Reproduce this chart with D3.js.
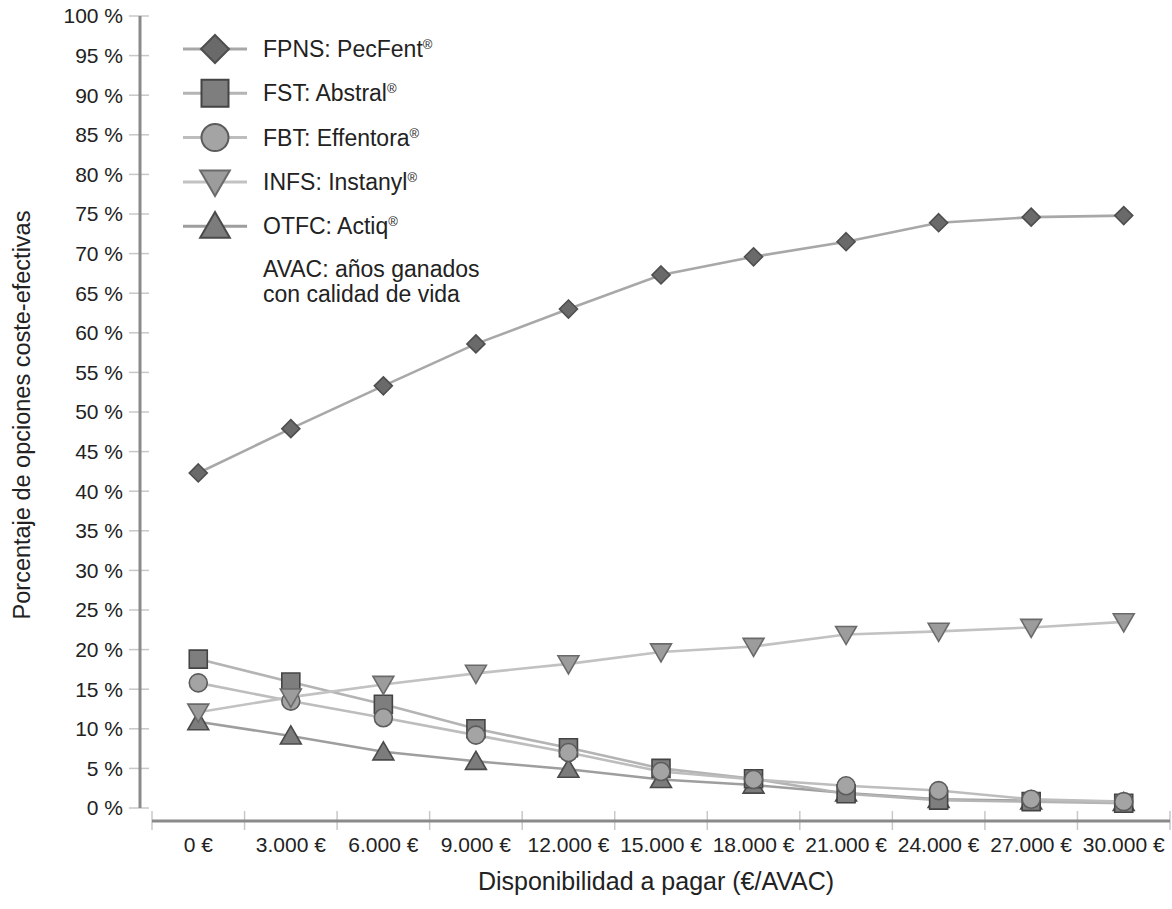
<!DOCTYPE html>
<html>
<head>
<meta charset="utf-8">
<script src="https://cdn.jsdelivr.net/npm/d3@7"></script>
<style>
  body { margin: 0; background: #fff; }
  text { font-family: "Liberation Sans", Arial, sans-serif; fill: #222; }
</style>
</head>
<body>
<div id="chart"></div>
<script>
var categories = [0, 3000, 6000, 9000, 12000, 15000, 18000, 21000, 24000, 27000, 30000];
var xLabels = ["0 €", "3.000 €", "6.000 €", "9.000 €", "12.000 €", "15.000 €", "18.000 €", "21.000 €", "24.000 €", "27.000 €", "30.000 €"];
var yTicks = d3.range(0, 101, 5);

var fpns = [42.3, 47.9, 53.3, 58.6, 63.0, 67.3, 69.6, 71.5, 73.9, 74.6, 74.8];
var fst  = [18.8, 15.9, 13.1, 10.0, 7.6, 5.0, 3.7, 1.8, 1.0, 0.8, 0.6];
var fbt  = [15.8, 13.5, 11.4, 9.2, 7.0, 4.6, 3.6, 2.8, 2.2, 1.1, 0.8];
var infs = [12.1, 14.0, 15.6, 17.0, 18.2, 19.7, 20.4, 21.9, 22.3, 22.8, 23.5];
var otfc = [10.9, 9.1, 7.1, 5.9, 4.9, 3.6, 2.9, 1.9, 1.1, 0.9, 0.7];

var seriesNames = ["FPNS: PecFent", "FST: Abstral", "FBT: Effentora", "INFS: Instanyl", "OTFC: Actiq"];

var width = 1172, height = 909;

// marker shapes centred on 0,0
function markerPath(kind, s) {
    var h = s / 2;
    if (kind === "diamond") return "M0," + (-h) + "L" + h + ",0L0," + h + "L" + (-h) + ",0Z";
    if (kind === "square") return "M" + (-h) + "," + (-h) + "H" + h + "V" + h + "H" + (-h) + "Z";
    if (kind === "circle") return "M" + h + ",0A" + h + "," + h + " 0 1,1 " + (-h) + ",0A" + h + "," + h + " 0 1,1 " + h + ",0Z";
    if (kind === "down") return "M" + (-h * 1.1) + "," + (-h * 0.85) + "H" + (h * 1.1) + "L0," + (h * 1.05) + "Z";
    if (kind === "up") return "M" + (-h * 1.1) + "," + (h * 0.85) + "H" + (h * 1.1) + "L0," + (-h * 1.05) + "Z";
}

// drawing order: bottom first
var series = [
    { name: seriesNames[4], values: otfc, kind: "up",      size: 19, fill: "#7c7c7c", stroke: "#4a4a4a", line: "#9e9e9e" },
    { name: seriesNames[1], values: fst,  kind: "square",  size: 18, fill: "#7e7e7e", stroke: "#444",    line: "#b4b4b4" },
    { name: seriesNames[2], values: fbt,  kind: "circle",  size: 18, fill: "#a4a4a4", stroke: "#5c5c5c", line: "#bdbdbd" },
    { name: seriesNames[3], values: infs, kind: "down",    size: 19, fill: "#9c9c9c", stroke: "#6a6a6a", line: "#c2c2c2" },
    { name: seriesNames[0], values: fpns, kind: "diamond", size: 18, fill: "#6a6a6a", stroke: "#4e4e4e", line: "#a8a8a8" }
];
var legendOrder = ["diamond", "square", "circle", "down", "up"];

var svg = d3.select("#chart").append("svg")
    .attr("width", width)
    .attr("height", height);

var x = d3.scaleBand().domain(categories).range([152, 1170]);
var y = d3.scaleLinear().domain([0, 100]).range([808, 16]);
var cx = function (c) { return x(c) + x.bandwidth() / 2; };

// y axis
var yAxis = svg.append("g");
yAxis.selectAll(".ytick").data(yTicks).enter().append("line")
    .attr("x1", 129).attr("x2", 149)
    .attr("y1", function (d) { return y(d); })
    .attr("y2", function (d) { return y(d); })
    .attr("stroke", "#c8c8c8").attr("stroke-width", 1.5);
yAxis.append("line")
    .attr("x1", 140).attr("x2", 140)
    .attr("y1", y(100)).attr("y2", y(0))
    .attr("stroke", "#8a8a8a").attr("stroke-width", 3);
yAxis.selectAll(".ylab").data(yTicks).enter().append("text")
    .attr("x", 123)
    .attr("y", function (d) { return y(d); })
    .attr("dy", "0.35em")
    .attr("text-anchor", "end")
    .style("font-size", "21px")
    .text(function (d) { return d + " %"; });

// x axis
var xAxis = svg.append("g");
var edges = categories.map(function (c) { return x(c); }).concat([x.range()[1]]);
xAxis.selectAll(".xtick").data(edges).enter().append("line")
    .attr("x1", function (d) { return d; })
    .attr("x2", function (d) { return d; })
    .attr("y1", 811).attr("y2", 830)
    .attr("stroke", "#c8c8c8").attr("stroke-width", 1.5);
xAxis.append("line")
    .attr("x1", x.range()[0]).attr("x2", x.range()[1])
    .attr("y1", 821).attr("y2", 821)
    .attr("stroke", "#8a8a8a").attr("stroke-width", 3);
xAxis.selectAll(".xlab").data(categories).enter().append("text")
    .attr("x", function (d) { return cx(d); })
    .attr("y", 852)
    .attr("text-anchor", "middle")
    .style("font-size", "21px")
    .text(function (d, i) { return xLabels[i]; });

// axis titles
svg.append("text")
    .attr("x", 656).attr("y", 890)
    .attr("text-anchor", "middle")
    .style("font-size", "25px")
    .text("Disponibilidad a pagar (€/AVAC)");
svg.append("text")
    .attr("transform", "translate(30,415) rotate(-90)")
    .attr("text-anchor", "middle")
    .style("font-size", "23.5px")
    .text("Porcentaje de opciones coste-efectivas");

// lines
var line = d3.line()
    .x(function (d, i) { return cx(categories[i]); })
    .y(function (d) { return y(d); });

series.forEach(function (s) {
    svg.append("path")
        .datum(s.values)
        .attr("fill", "none")
        .attr("stroke", s.line)
        .attr("stroke-width", 2.6)
        .attr("d", line);
});

// markers
series.forEach(function (s) {
    svg.append("g").selectAll("path")
        .data(s.values).enter().append("path")
        .attr("transform", function (d, i) { return "translate(" + cx(categories[i]) + "," + y(d) + ")"; })
        .attr("d", markerPath(s.kind, s.size))
        .attr("fill", s.fill)
        .attr("stroke", s.stroke)
        .attr("stroke-width", 1.6);
});

// legend
var legend = svg.append("g");
legendOrder.forEach(function (kind, i) {
    var s = series.filter(function (d) { return d.kind === kind; })[0];
    var ly = 49 + i * 44.3;
    var g = legend.append("g").attr("transform", "translate(0," + ly + ")");
    g.append("line")
        .attr("x1", 183).attr("x2", 247)
        .attr("stroke", s.line).attr("stroke-width", 3);
    g.append("path")
        .attr("transform", "translate(215,0)")
        .attr("d", markerPath(kind, kind === "diamond" ? 28 : 27))
        .attr("fill", s.fill)
        .attr("stroke", s.stroke)
        .attr("stroke-width", 2);
    var t = g.append("text")
        .attr("x", 263).attr("y", 8)
        .style("font-size", "23px")
        .text(s.name);
    t.append("tspan")
        .attr("dy", "-8")
        .style("font-size", "13px")
        .text("®");
});
legend.append("text")
    .attr("x", 263).attr("y", 277)
    .style("font-size", "23px")
    .text("AVAC: años ganados");
legend.append("text")
    .attr("x", 263).attr("y", 302)
    .style("font-size", "23px")
    .text("con calidad de vida");
</script>
</body>
</html>
